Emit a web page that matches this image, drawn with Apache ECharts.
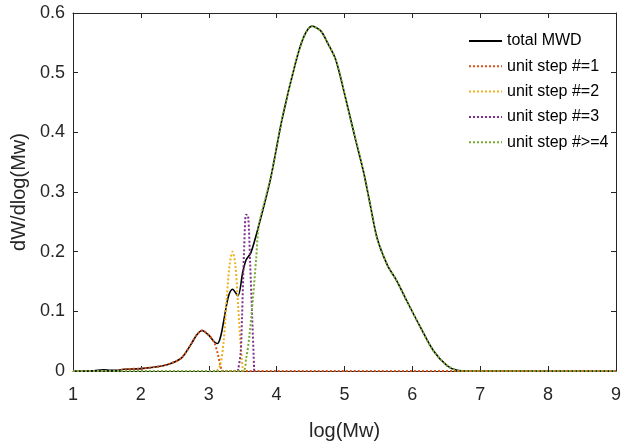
<!DOCTYPE html>
<html>
<head>
<meta charset="utf-8">
<script src="https://cdn.jsdelivr.net/npm/echarts@6/dist/echarts.min.js"></script>
<style>
  html, body { margin: 0; padding: 0; background: #fff; }
  #chart { width: 625px; height: 446px; }
</style>
</head>
<body>
<div id="chart"></div>
<script>
// values: [log(Mw), dW/dlog(Mw)]
var totalMWD = [
  [1.0, 0], [1.3, 0.0005], [1.45, 0.002], [1.55, 0.001], [1.65, 0.001], [1.75, 0.003],
  [2.0, 0.004], [2.29, 0.008], [2.45, 0.013], [2.6, 0.022], [2.74, 0.045], [2.82, 0.06],
  [2.9, 0.068], [3.0, 0.06], [3.08, 0.049], [3.13, 0.046], [3.18, 0.06], [3.23, 0.09],
  [3.29, 0.125], [3.35, 0.137], [3.43, 0.126], [3.5, 0.165], [3.55, 0.186], [3.62, 0.198],
  [3.74, 0.245], [3.91, 0.322], [4.08, 0.422], [4.28, 0.517], [4.4, 0.56], [4.52, 0.578],
  [4.65, 0.57], [4.75, 0.55], [4.87, 0.522], [5.01, 0.46], [5.16, 0.389], [5.28, 0.334],
  [5.38, 0.278], [5.48, 0.223], [5.63, 0.178], [5.77, 0.151], [5.92, 0.117], [6.12, 0.073],
  [6.31, 0.034], [6.51, 0.009], [6.66, 0.001], [6.8, 0], [9.0, 0]
];
var unitStep1 = [
  [1.0, 0], [1.65, 0], [1.75, 0.003], [2.0, 0.004], [2.29, 0.008], [2.45, 0.013],
  [2.6, 0.022], [2.74, 0.045], [2.82, 0.06], [2.9, 0.068], [3.0, 0.06], [3.08, 0.048],
  [3.13, 0.03], [3.17, 0.01], [3.21, 0], [9.0, 0]
];
var unitStep2 = [
  [3.12, 0], [3.17, 0.01], [3.22, 0.05], [3.27, 0.13], [3.31, 0.18], [3.35, 0.2],
  [3.39, 0.18], [3.42, 0.134], [3.46, 0.06], [3.5, 0.005], [3.52, 0]
];
var unitStep3 = [
  [3.43, 0], [3.47, 0.03], [3.49, 0.09], [3.52, 0.2], [3.55, 0.262], [3.58, 0.26],
  [3.61, 0.18], [3.64, 0.09], [3.67, 0]
];
var unitStep4 = [
  [1.0, 0], [3.5, 0], [3.55, 0.02], [3.6, 0.06], [3.65, 0.12], [3.7, 0.19],
  [3.74, 0.245], [3.91, 0.322], [4.08, 0.422], [4.28, 0.517], [4.4, 0.56], [4.52, 0.578],
  [4.65, 0.57], [4.75, 0.55], [4.87, 0.522], [5.01, 0.46], [5.16, 0.389], [5.28, 0.334],
  [5.38, 0.278], [5.48, 0.223], [5.63, 0.178], [5.77, 0.151], [5.92, 0.117], [6.12, 0.073],
  [6.31, 0.034], [6.51, 0.009], [6.66, 0.001], [6.8, 0], [9.0, 0]
];
var seriesNames = ['total MWD', 'unit step #=1', 'unit step #=2', 'unit step #=3', 'unit step #>=4'];
var seriesColors = ['#000000', '#D95319', '#EDB120', '#7E2F8E', '#77AC30'];

var axisColor = '#262626';
var font = '"Liberation Sans", Arial, sans-serif';

function mkSeries(i, data) {
  return {
    name: seriesNames[i],
    type: 'line',
    data: data,
    symbol: 'none',
    smooth: 0.3,
    lineStyle: {
      color: seriesColors[i],
      width: i === 0 ? 1.6 : 2,
      type: i === 0 ? 'solid' : [2, 2]
    },
    itemStyle: { color: seriesColors[i] }
  };
}

var myChart = echarts.init(document.getElementById('chart'));
myChart.setOption({
  animation: false,
  backgroundColor: '#fff',
  textStyle: { fontFamily: font },
  grid: { left: 73, right: 9, top: 13, bottom: 72 },
  legend: {
    orient: 'vertical',
    left: 468,
    top: 33,
    padding: 0,
    itemWidth: 33,
    itemHeight: 14,
    itemGap: 9.3,
    itemStyle: { opacity: 0 },
    textStyle: { fontSize: 16, color: '#000', fontFamily: font },
    data: seriesNames
  },
  xAxis: [{
    type: 'value',
    min: 1, max: 9, interval: 1,
    name: 'log(Mw)',
    nameLocation: 'middle',
    nameGap: 50,
    nameTextStyle: { fontSize: 20, color: axisColor, fontFamily: font },
    axisLine: { show: true, onZero: false, lineStyle: { color: axisColor, width: 1 } },
    axisTick: { show: true, inside: true, length: 5, lineStyle: { color: axisColor } },
    axisLabel: { fontSize: 18, color: axisColor, margin: 15, fontFamily: font },
    splitLine: { show: false }
  }, {
    type: 'value',
    position: 'top',
    min: 1, max: 9, interval: 1,
    axisLine: { show: true, onZero: false, lineStyle: { color: axisColor, width: 1 } },
    axisTick: { show: true, inside: true, length: 5, lineStyle: { color: axisColor } },
    axisLabel: { show: false },
    splitLine: { show: false }
  }],
  yAxis: [{
    type: 'value',
    min: 0, max: 0.6, interval: 0.1,
    name: 'dW/dlog(Mw)',
    nameLocation: 'middle',
    nameGap: 42,
    nameTextStyle: { fontSize: 20, color: axisColor, fontFamily: font },
    axisLine: { show: true, onZero: false, lineStyle: { color: axisColor, width: 1 } },
    axisTick: { show: true, inside: true, length: 5, lineStyle: { color: axisColor } },
    axisLabel: { fontSize: 18, color: axisColor, margin: 8, fontFamily: font },
    splitLine: { show: false }
  }, {
    type: 'value',
    position: 'right',
    min: 0, max: 0.6, interval: 0.1,
    axisLine: { show: true, onZero: false, lineStyle: { color: axisColor, width: 1 } },
    axisTick: { show: true, inside: true, length: 5, lineStyle: { color: axisColor } },
    axisLabel: { show: false },
    splitLine: { show: false }
  }],
  series: [
    mkSeries(0, totalMWD),
    mkSeries(1, unitStep1),
    mkSeries(2, unitStep2),
    mkSeries(3, unitStep3),
    mkSeries(4, unitStep4)
  ]
});
</script>
</body>
</html>
